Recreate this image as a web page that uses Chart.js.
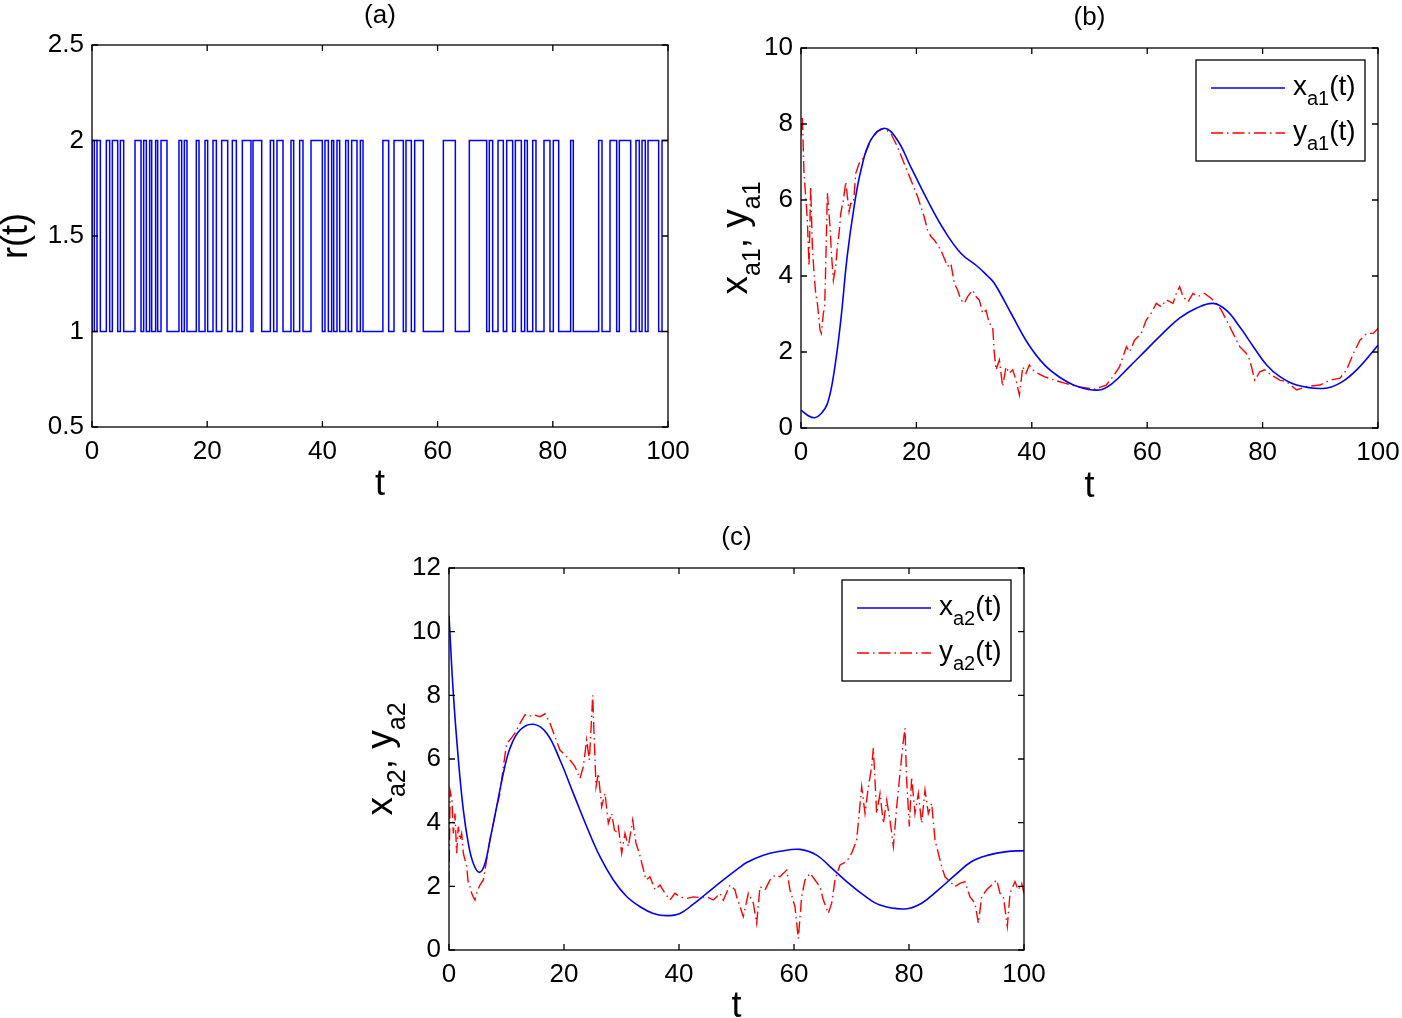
<!DOCTYPE html>
<html>
<head>
<meta charset="utf-8">
<script src="https://cdn.jsdelivr.net/npm/chart.js@4.4.1/dist/chart.umd.min.js"></script>
<style>
  html, body { margin: 0; padding: 0; background: #fff; }
  body { width: 1402px; height: 1018px; position: relative; overflow: hidden; }
  canvas { position: absolute; }
</style>
</head>
<body>
<canvas id="ca" width="700" height="510" style="left:0px;top:0px;width:700px;height:510px"></canvas>
<canvas id="cb" width="702" height="510" style="left:700px;top:0px;width:702px;height:510px"></canvas>
<canvas id="cc" width="720" height="508" style="left:340px;top:510px;width:720px;height:508px"></canvas>
<script>
// ---------- data ----------
const xTicks = [0, 20, 40, 60, 80, 100];

// (a) Markov chain r(t): time at which each state begins, and the state
const rT = [0, 0.4, 0.87, 1.45, 2.49, 3.07, 3.53, 4.46, 4.92, 5.5, 7.47, 8.51, 8.97, 9.43, 10.01, 10.36, 11.05, 11.4, 11.98, 13.02,
  15.1, 15.57, 16.03, 16.49, 18.11, 18.58, 19.62, 20.08, 21.01, 21.59, 22.51, 23.56, 24.36, 25.06, 26.1, 27.6, 27.95, 29.46, 30.96, 31.54,
  32.12, 33.16, 34.55, 35.01, 36.05, 36.63, 38.02, 39.99, 40.45, 41.03, 41.61, 41.96, 42.53, 43.0, 44.04, 44.5, 45.08, 46.01, 46.59, 47.05,
  50.5, 51.5, 52.43, 54.05, 54.51, 55.44, 56.02, 57.52, 61.0, 63.08, 65.51, 68.52, 68.98, 69.56, 70.49, 71.41, 71.99, 73.03, 73.5, 74.54,
  75.12, 75.58, 76.51, 77.08, 78.47, 79.51, 80.09, 81.02, 83.1, 83.56, 87.96, 88.54, 89.93, 91.09, 91.55, 93.52, 94.44, 95.02, 95.49, 96.06,
  96.53, 98.38, 98.96, 99.9, 100];
const rV = [1, 2, 1, 2, 1, 2, 1, 2, 1, 2, 1, 2, 1, 2, 1, 2, 1, 2, 1, 2,
  1, 2, 1, 2, 1, 2, 1, 2, 1, 2, 1, 2, 1, 2, 1, 2, 1, 2, 1, 2,
  1, 2, 1, 2, 1, 2, 1, 2, 1, 2, 1, 2, 1, 2, 1, 2, 1, 2, 1, 2,
  1, 2, 1, 2, 1, 2, 1, 2, 1, 2, 1, 2, 1, 2, 1, 2, 1, 2, 1, 2,
  1, 2, 1, 2, 1, 2, 1, 2, 1, 2, 1, 2, 1, 2, 1, 2, 1, 2, 1, 2,
  1, 2, 1, 2, 2];

// (b) x_a1(t) (smooth) and y_a1(t) (noisy)
const xa1T = [0, 1.2, 2.4, 3.5, 4.6, 5.7, 6.9, 8.0, 9.2, 10.4, 12.1, 14.5, 16.7, 19.0, 21.9, 24.8, 27.7, 30.6, 32.2, 33.5, 36.4, 39.3, 42.2, 45.1, 48.0,
  51.7, 54.0, 56.9, 59.8, 62.7, 65.6, 68.5, 71.4, 73.7, 76.0, 78.4, 80.7, 83.0, 85.9, 90.5, 93.4, 96.3, 100];
const xa1V = [0.47, 0.33, 0.27, 0.38, 0.65, 1.44, 2.84, 4.51, 5.82, 6.79, 7.58, 7.89, 7.58, 6.88, 6.0, 5.21, 4.6, 4.25, 4.02, 3.81, 3.02, 2.23, 1.66, 1.31, 1.09,
  1.0, 1.18, 1.61, 2.05, 2.49, 2.89, 3.15, 3.28, 3.1, 2.67, 2.14, 1.66, 1.35, 1.13, 1.04, 1.18, 1.53, 2.18];
const ya1T = [0, 0.23, 0.52, 0.81, 1.1, 1.39, 1.68, 1.97, 2.26, 2.55, 2.84, 3.3, 3.53, 3.88, 4.1, 4.28, 4.57, 4.8, 5.03, 5.27, 5.61, 6.02, 6.31, 6.6, 6.89,
  7.35, 7.75, 8.04, 8.33, 8.62, 9.09, 9.49, 10.07, 10.94, 12.1, 13.25, 14.41, 15.57, 16.72, 17.88, 19.04, 20.2, 21.35, 21.93, 22.51, 23.09, 24.25, 25.4, 25.98, 26.56,
  27.14, 27.72, 28.3, 28.88, 29.75, 30.32, 30.9, 31.48, 32.06, 32.64, 33.22, 33.51, 33.8, 34.38, 34.95, 35.53, 36.11, 36.69, 37.27, 37.85, 38.43, 39.0, 39.58, 40.16, 41.03,
  42.18, 43.92, 45.66, 47.97, 50.87, 52.9, 54.05, 55.2, 56.4, 56.94, 57.8, 58.97, 59.83, 60.7, 61.57, 62.44, 63.3, 64.47, 65.04, 65.62, 66.2, 67.07, 67.93, 68.8, 69.96,
  71.12, 71.99, 72.85, 73.72, 74.88, 76.04, 77.2, 77.78, 78.65, 79.51, 80.38, 81.53, 82.99, 84.14, 85.88, 87.62, 89.93, 91.67, 93.4, 94.56, 95.72, 96.88, 98.03, 99.19, 100];
const ya1V = [7.7, 8.21, 6.7, 6.09, 5.47, 4.25, 6.35, 4.77, 4.07, 3.54, 3.28, 2.58, 2.49, 3.02, 3.19, 4.25, 6.18, 5.74, 5.3, 4.6, 3.89, 4.25, 4.77, 5.12, 5.65,
  6.0, 6.48, 6.09, 5.69, 5.91, 5.91, 6.7, 6.96, 7.14, 7.58, 7.8, 7.89, 7.75, 7.4, 6.96, 6.53, 6.09, 5.56, 5.21, 5.04, 4.95, 4.68, 4.25, 4.33, 3.81,
  3.63, 3.37, 3.28, 3.46, 3.63, 3.46, 3.37, 3.02, 3.1, 2.75, 2.67, 1.96, 1.53, 1.79, 1.09, 1.61, 1.44, 1.53, 1.26, 0.87, 1.61, 1.44, 1.66, 1.53, 1.44,
  1.35, 1.26, 1.18, 1.09, 1.02, 1.13, 1.35, 1.61, 2.14, 2.0, 2.31, 2.49, 2.84, 3.02, 3.28, 3.19, 3.37, 3.28, 3.54, 3.72, 3.46, 3.32, 3.54, 3.46, 3.54,
  3.41, 3.28, 3.1, 2.84, 2.49, 2.14, 1.96, 1.79, 1.26, 1.48, 1.53, 1.39, 1.26, 1.22, 1.0, 1.09, 1.13, 1.26, 1.31, 1.53, 1.96, 2.31, 2.49, 2.49, 2.62];

// (c) x_a2(t) (smooth) and y_a2(t) (noisy)
const xa2T = [0, 0.75, 1.62, 2.49, 3.36, 4.23, 5.28, 6.26, 7.13, 8.29, 9.45, 10.61, 12.35, 14.67, 16.99, 19.3, 21.62, 23.94, 26.26, 28.58, 30.9, 33.22, 35.54, 37.86,
  40.17, 42.49, 44.81, 47.71, 50.61, 51.77, 54.67, 57.57, 61.04, 63.94, 66.26, 69.16, 72.06, 74.96, 79.3, 82.2, 85.1, 88.0, 90.9, 93.8, 96.99, 100];
const xa2V = [10.5, 8.06, 6.0, 4.4, 3.35, 2.72, 2.44, 2.72, 3.46, 4.5, 5.55, 6.34, 6.91, 7.09, 6.81, 5.97, 4.92, 3.88, 2.93, 2.2, 1.68, 1.36, 1.15, 1.08,
  1.15, 1.44, 1.78, 2.2, 2.6, 2.75, 2.98, 3.1, 3.16, 2.98, 2.62, 2.15, 1.73, 1.41, 1.29, 1.47, 1.89, 2.35, 2.78, 2.98, 3.09, 3.12];
const ya2T = [0, 0.2, 0.52, 0.75, 1.04, 1.33, 1.62, 1.91, 2.2, 2.49, 2.78, 3.07, 3.36, 3.65, 3.94, 4.23, 4.52, 4.81, 5.1, 5.39, 5.97, 6.55, 7.13, 7.71, 8.29,
  8.87, 9.45, 10.03, 10.61, 11.48, 12.35, 13.22, 13.8, 14.67, 15.83, 16.7, 17.57, 18.43, 19.3, 20.17, 21.04, 21.91, 22.78, 23.36, 23.94, 24.41, 24.81, 24.99, 25.22, 25.57,
  25.97, 26.55, 27.13, 27.71, 28.29, 28.87, 29.45, 30.03, 30.61, 31.19, 31.94, 32.52, 33.1, 33.68, 34.26, 34.96, 35.83, 36.7, 37.57, 38.43, 39.3, 40.17, 41.33, 42.49, 43.65,
  44.81, 45.97, 47.13, 47.71, 48.87, 49.74, 50.03, 51.19, 52.06, 52.93, 53.51, 54.09, 54.96, 55.83, 56.7, 57.57, 58.72, 59.3, 60.17, 60.75, 61.33, 61.91, 62.78, 63.65, 64.52,
  65.1, 65.97, 66.55, 67.13, 68.0, 69.16, 70.03, 70.9, 71.77, 72.35, 72.93, 73.51, 73.8, 74.38, 74.96, 75.54, 76.12, 76.7, 77.28, 77.86, 78.43, 78.9, 79.3, 79.59, 80.06,
  80.46, 81.04, 81.62, 82.2, 82.78, 83.36, 83.94, 84.52, 85.1, 85.68, 86.26, 87.13, 88.0, 88.87, 89.74, 90.61, 91.48, 92.06, 92.64, 93.51, 94.38, 95.25, 95.83, 96.41, 97.1,
  97.57, 98.43, 99.0, 99.59, 100];
const ya2V = [2.1, 5.0, 4.71, 3.66, 4.29, 3.04, 3.88, 3.46, 3.66, 3.04, 2.83, 2.62, 2.09, 1.99, 1.78, 1.67, 1.57, 1.78, 1.93, 2.04, 2.2, 2.83, 3.46, 3.98, 4.5,
  4.92, 5.76, 6.49, 6.6, 6.81, 7.12, 7.39, 7.33, 7.39, 7.33, 7.42, 7.12, 6.7, 6.28, 6.12, 5.97, 5.76, 5.39, 5.76, 6.6, 5.97, 7.33, 8.0, 6.81, 5.13,
  5.55, 4.5, 4.92, 3.98, 4.29, 3.66, 3.88, 3.04, 3.66, 3.25, 4.08, 3.35, 3.04, 2.62, 2.2, 2.3, 1.89, 2.04, 1.78, 1.57, 1.78, 1.67, 1.62, 1.67, 1.65,
  1.67, 1.57, 1.78, 1.57, 2.04, 1.89, 1.67, 1.05, 1.78, 1.47, 0.84, 1.99, 1.89, 2.2, 2.35, 2.3, 2.51, 1.89, 1.36, 0.36, 1.67, 2.2, 2.41, 2.2, 1.99,
  1.57, 1.15, 1.47, 2.2, 2.67, 2.78, 3.04, 3.46, 5.13, 4.29, 5.13, 5.76, 6.34, 4.29, 4.92, 3.98, 4.71, 4.08, 3.25, 4.5, 5.55, 6.39, 6.97, 5.34, 3.88,
  5.44, 4.29, 4.92, 3.98, 5.02, 4.29, 4.61, 3.46, 3.04, 2.62, 2.3, 2.15, 1.99, 2.09, 2.15, 1.67, 1.47, 0.84, 1.67, 1.89, 2.04, 2.2, 1.78, 1.67, 0.74,
  1.78, 2.15, 1.89, 2.09, 1.78];

// ---------- styling ----------
const FONT = "'Liberation Sans', Arial, Helvetica, sans-serif";
const BLUE = '#0000ff';
const RED = '#ff0000';
const DASHDOT = [12, 4, 1.5, 4];
Chart.defaults.font.family = FONT;
Chart.defaults.color = '#000';

function pts(T, V) { return T.map((t, i) => ({ x: t, y: V[i] })); }

// draw text composed of parts with different sizes / baseline shifts
function drawParts(ctx, parts, x, y, align) {
  let w = 0;
  parts.forEach(p => { ctx.font = p.s + 'px ' + FONT; w += ctx.measureText(p.t).width; });
  let cx = align === 'center' ? x - w / 2 : x;
  ctx.textAlign = 'left';
  ctx.textBaseline = 'alphabetic';
  parts.forEach(p => {
    ctx.font = p.s + 'px ' + FONT;
    ctx.fillText(p.t, cx, y + (p.dy || 0));
    cx += ctx.measureText(p.t).width;
  });
}

// MATLAB-like box with inward ticks, plus title, axis labels and legend
const matlabAxes = {
  id: 'matlabAxes',
  afterDatasetsDraw(chart, args, o) {
    const { ctx, chartArea: a, scales: { x, y } } = chart;
    ctx.save();
    ctx.strokeStyle = '#000';
    ctx.lineWidth = 1.3;
    ctx.setLineDash([]);
    const L = 6;
    ctx.beginPath();
    x.ticks.forEach(t => {
      const p = x.getPixelForValue(t.value);
      ctx.moveTo(p, a.bottom); ctx.lineTo(p, a.bottom - L);
      ctx.moveTo(p, a.top); ctx.lineTo(p, a.top + L);
    });
    y.ticks.forEach(t => {
      const p = y.getPixelForValue(t.value);
      ctx.moveTo(a.left, p); ctx.lineTo(a.left + L, p);
      ctx.moveTo(a.right, p); ctx.lineTo(a.right - L, p);
    });
    ctx.stroke();
    ctx.strokeRect(a.left, a.top, a.right - a.left, a.bottom - a.top);

    ctx.fillStyle = '#000';
    if (o.title) {
      drawParts(ctx, [{ t: o.title, s: 26 }], (a.left + a.right) / 2, a.top - o.titleDy, 'center');
    }
    if (o.xLabel) {
      drawParts(ctx, o.xLabel.parts, (a.left + a.right) / 2, a.bottom + o.xLabel.dy, 'center');
    }
    if (o.yLabel) {
      ctx.save();
      ctx.translate(a.left - o.yLabel.dx, (a.top + a.bottom) / 2);
      ctx.rotate(-Math.PI / 2);
      drawParts(ctx, o.yLabel.parts, 0, 0, 'center');
      ctx.restore();
    }
    if (o.legend) {
      const lg = o.legend;
      const bx = a.right - lg.right - lg.w, by = a.top + lg.top;
      ctx.fillStyle = '#fff';
      ctx.fillRect(bx, by, lg.w, lg.h);
      ctx.strokeStyle = '#000';
      ctx.lineWidth = 1.3;
      ctx.strokeRect(bx, by, lg.w, lg.h);
      lg.items.forEach((it, i) => {
        const ry = by + lg.rows[i];
        ctx.save();
        ctx.strokeStyle = it.color;
        ctx.lineWidth = 1.5;
        ctx.setLineDash(it.dash || []);
        ctx.beginPath();
        ctx.moveTo(bx + 15, ry); ctx.lineTo(bx + 89, ry);
        ctx.stroke();
        ctx.restore();
        ctx.fillStyle = '#000';
        drawParts(ctx, it.parts, bx + 97, ry + 7, 'left');
      });
    }
    ctx.restore();
  }
};

function makeChart(id, cfg) {
  return new Chart(document.getElementById(id), {
    type: 'line',
    data: { datasets: cfg.datasets },
    options: {
      responsive: false,
      animation: false,
      devicePixelRatio: 1,
      layout: { autoPadding: false, padding: { left: 0, right: cfg.padRight, top: cfg.padTop, bottom: 0 } },
      plugins: {
        legend: { display: false },
        tooltip: { enabled: false },
        title: { display: false },
        matlabAxes: cfg.annot
      },
      scales: {
        x: {
          type: 'linear', min: 0, max: 100,
          afterBuildTicks: s => { s.ticks = xTicks.map(v => ({ value: v })); },
          afterFit: s => { s.height = cfg.xHeight; s.paddingLeft = 0; s.paddingRight = 0; },
          grid: { display: false, drawTicks: false },
          border: { display: false },
          ticks: { font: { size: 26 }, padding: cfg.xTickPad, maxRotation: 0, color: '#000', callback: v => String(v) }
        },
        y: {
          type: 'linear', min: cfg.yMin, max: cfg.yMax,
          afterBuildTicks: s => { s.ticks = cfg.yTicks.map(v => ({ value: v })); },
          afterFit: s => { s.width = cfg.yWidth; s.paddingTop = 0; s.paddingBottom = 0; },
          grid: { display: false, drawTicks: false },
          border: { display: false },
          ticks: { font: { size: 26 }, padding: 8, color: '#000', callback: v => String(v) }
        }
      }
    },
    plugins: [matlabAxes]
  });
}

const SMOOTH = { pointRadius: 0, fill: false, tension: 0.4, borderWidth: 1.6, borderColor: BLUE };
const NOISY = { pointRadius: 0, fill: false, tension: 0, borderWidth: 1.4, borderColor: RED, borderDash: DASHDOT };

// (a)
makeChart('ca', {
  padTop: 45, padRight: 32, yWidth: 92, xHeight: 83, xTickPad: 9,
  yMin: 0.5, yMax: 2.5, yTicks: [0.5, 1, 1.5, 2, 2.5],
  datasets: [{
    data: pts(rT, rV), stepped: 'after', borderColor: BLUE, borderWidth: 1.5,
    pointRadius: 0, fill: false
  }],
  annot: {
    title: '(a)', titleDy: 22,
    xLabel: { dy: 68, parts: [{ t: 't', s: 36 }] },
    yLabel: { dx: 65, parts: [{ t: 'r(t)', s: 36 }] }
  }
});

const legendLayout = { right: 13, top: 12, w: 169, h: 101, rows: [28, 73] };

// (b)
makeChart('cb', {
  padTop: 48, padRight: 24, yWidth: 101, xHeight: 82, xTickPad: 9,
  yMin: 0, yMax: 10, yTicks: [0, 2, 4, 6, 8, 10],
  datasets: [
    Object.assign({ data: pts(xa1T, xa1V) }, SMOOTH),
    Object.assign({ data: pts(ya1T, ya1V) }, NOISY)
  ],
  annot: {
    title: '(b)', titleDy: 23,
    xLabel: { dy: 69, parts: [{ t: 't', s: 36 }] },
    yLabel: { dx: 54, parts: [{ t: 'x', s: 37 }, { t: 'a1', s: 25, dy: 13 }, { t: ', ', s: 37 }, { t: 'y', s: 37 }, { t: 'a1', s: 25, dy: 13 }] },
    legend: Object.assign({}, legendLayout, {
      items: [
        { color: BLUE, parts: [{ t: 'x', s: 28 }, { t: 'a1', s: 20, dy: 10 }, { t: '(t)', s: 28 }] },
        { color: RED, dash: DASHDOT, parts: [{ t: 'y', s: 28 }, { t: 'a1', s: 20, dy: 10 }, { t: '(t)', s: 28 }] }
      ]
    })
  }
});

// (c)
makeChart('cc', {
  padTop: 58, padRight: 36, yWidth: 109, xHeight: 68, xTickPad: 9,
  yMin: 0, yMax: 12, yTicks: [0, 2, 4, 6, 8, 10, 12],
  datasets: [
    Object.assign({ data: pts(xa2T, xa2V) }, SMOOTH),
    Object.assign({ data: pts(ya2T, ya2V) }, NOISY)
  ],
  annot: {
    title: '(c)', titleDy: 23,
    xLabel: { dy: 67, parts: [{ t: 't', s: 36 }] },
    yLabel: { dx: 57, parts: [{ t: 'x', s: 37 }, { t: 'a2', s: 25, dy: 13 }, { t: ', ', s: 37 }, { t: 'y', s: 37 }, { t: 'a2', s: 25, dy: 13 }] },
    legend: Object.assign({}, legendLayout, {
      items: [
        { color: BLUE, parts: [{ t: 'x', s: 28 }, { t: 'a2', s: 20, dy: 10 }, { t: '(t)', s: 28 }] },
        { color: RED, dash: DASHDOT, parts: [{ t: 'y', s: 28 }, { t: 'a2', s: 20, dy: 10 }, { t: '(t)', s: 28 }] }
      ]
    })
  }
});
</script>
</body>
</html>
